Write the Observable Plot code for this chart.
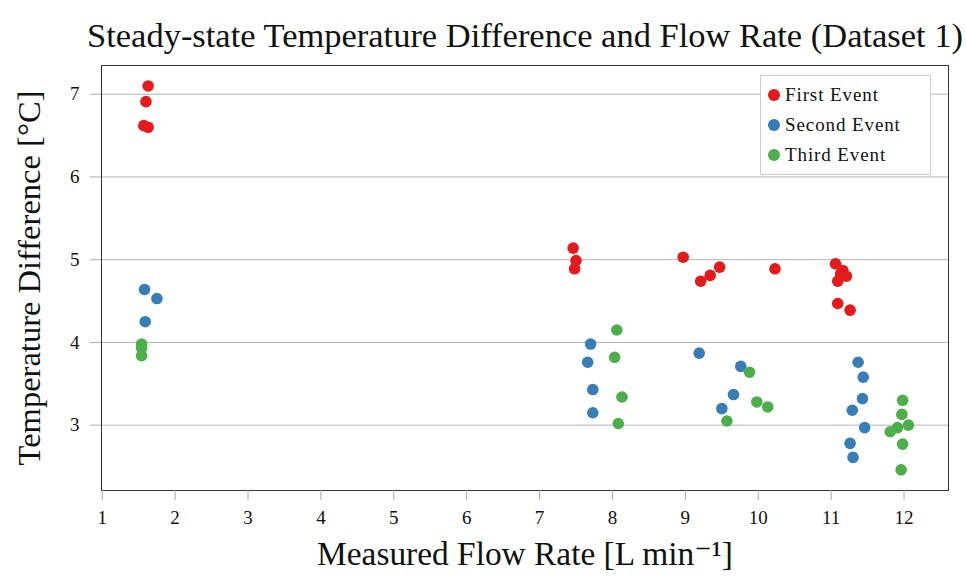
<!DOCTYPE html>
<html>
<head>
<meta charset="utf-8">
<script src="https://cdn.jsdelivr.net/npm/d3@7"></script>
<script src="https://cdn.jsdelivr.net/npm/@observablehq/plot@0.6"></script>
<style>
  html, body { margin: 0; padding: 0; background: #fff; }
  #wrap { position: relative; width: 966px; height: 581px; font-family: "Liberation Serif", "DejaVu Serif", serif; }
  #legend { position: absolute; left: 760px; top: 75px; width: 171px; height: 100px; box-sizing: border-box;
            border: 1px solid #d0d0d0; background: #fff; font-size: 19px; letter-spacing: 0.9px; color: #111; }
  .li { position: absolute; left: 0; height: 20px; line-height: 20px; white-space: nowrap; }
  .sw { position: absolute; left: 7px; top: 4px; width: 12px; height: 12px; border-radius: 50%; }
  .lt { position: absolute; left: 24px; top: 0; }
</style>
</head>
<body>
<div id="wrap"></div>
<script>
const title = "Steady-state Temperature Difference and Flow Rate (Dataset 1)";
const xLabel = "Measured Flow Rate [L min\u207B\u00B9]";
const yLabel = "Temperature Difference [\u00B0C]";
const seriesNames = ["First Event", "Second Event", "Third Event"];
const seriesColors = ["#e41a1c", "#377eb8", "#4daf4a"];
const xTicks = [1,2,3,4,5,6,7,8,9,10,11,12];
const yTicks = [3,4,5,6,7];

const firstX = [1.63, 1.60, 1.57, 1.63, 7.46, 7.50, 7.48, 8.97, 9.21, 9.34, 9.47, 10.23, 11.06, 11.16, 11.21, 11.09, 11.13, 11.09, 11.26];
const firstY = [7.10, 6.91, 6.62, 6.60, 5.14, 4.99, 4.89, 5.03, 4.74, 4.81, 4.91, 4.89, 4.95, 4.87, 4.80, 4.74, 4.83, 4.47, 4.39];
const secondX = [1.58, 1.75, 1.59, 7.70, 7.66, 7.73, 7.73, 9.19, 9.76, 9.66, 9.50, 11.37, 11.44, 11.43, 11.29, 11.46, 11.26, 11.30];
const secondY = [4.64, 4.53, 4.25, 3.98, 3.76, 3.43, 3.15, 3.87, 3.71, 3.37, 3.20, 3.76, 3.58, 3.32, 3.18, 2.97, 2.78, 2.61];
const thirdX = [1.54, 1.54, 1.54, 8.06, 8.03, 8.13, 8.08, 9.88, 9.98, 10.13, 9.57, 11.98, 11.97, 12.06, 11.91, 11.81, 11.98, 11.96];
const thirdY = [3.98, 3.93, 3.84, 4.15, 3.82, 3.34, 3.02, 3.64, 3.28, 3.22, 3.05, 3.30, 3.13, 3.00, 2.97, 2.92, 2.77, 2.46];

const series = [[firstX, firstY], [secondX, secondY], [thirdX, thirdY]];
const data = series.flatMap(([xs, ys], i) => xs.map((x, j) => ({x, y: ys[j], s: seriesNames[i]})));

const font = "'Liberation Serif', 'DejaVu Serif', serif";
const chart = Plot.plot({
  width: 966, height: 581,
  marginLeft: 101, marginRight: 18, marginTop: 65, marginBottom: 91,
  style: {fontFamily: font, background: "#fff", color: "#111"},
  x: {domain: [0.99, 12.61]},
  y: {domain: [2.21, 7.347]},
  color: {domain: seriesNames, range: seriesColors},
  marks: [
    Plot.gridY(yTicks, {stroke: "#b5b5b5", strokeOpacity: 1, strokeWidth: 1}),
    Plot.dot(data, {x: "x", y: "y", fill: "s", r: 5.8}),
    Plot.frame({stroke: "#333", strokeWidth: 1}),
    Plot.axisX(xTicks, {tickSize: 10, tickPadding: 10, fontSize: 19, stroke: "#aaa", strokeOpacity: 1, label: null, tickFormat: d => String(d)}),
    Plot.axisY(yTicks, {tickSize: 11, tickPadding: 11, fontSize: 19, stroke: "#aaa", strokeOpacity: 1, label: null, tickFormat: d => String(d)}),
    Plot.text([title], {frameAnchor: "top", dy: -43, fontSize: 27, fill: "#111", className: "ttl"}),
    Plot.text([xLabel], {frameAnchor: "bottom", dy: 74, fontSize: 30, fill: "#111", className: "xl"}),
    Plot.text([yLabel], {frameAnchor: "left", textAnchor: "middle", dx: -72, rotate: -90, fontSize: 30, fill: "#111", className: "yl"})
  ]
});
const wrap = document.getElementById("wrap");
wrap.appendChild(chart);

// fit label widths to the reference
function fit(cls, w) {
  const t = chart.querySelector("." + cls + " text");
  if (!t) return;
  const cur = t.getComputedTextLength();
  const fs = parseFloat(t.closest("g").getAttribute("font-size")) || 20;
  t.closest("g").setAttribute("font-size", (fs * w / cur).toFixed(2));
}
fit("ttl", 876);
fit("xl", 416);
fit("yl", 375);

const lg = document.createElement("div");
lg.id = "legend";
seriesNames.forEach((n, i) => {
  const it = document.createElement("div");
  it.className = "li";
  it.style.top = (9 + i * 30) + "px";
  it.innerHTML = `<span class="sw" style="background:${seriesColors[i]}"></span><span class="lt">${n}</span>`;
  lg.appendChild(it);
});
wrap.appendChild(lg);
</script>
</body>
</html>
